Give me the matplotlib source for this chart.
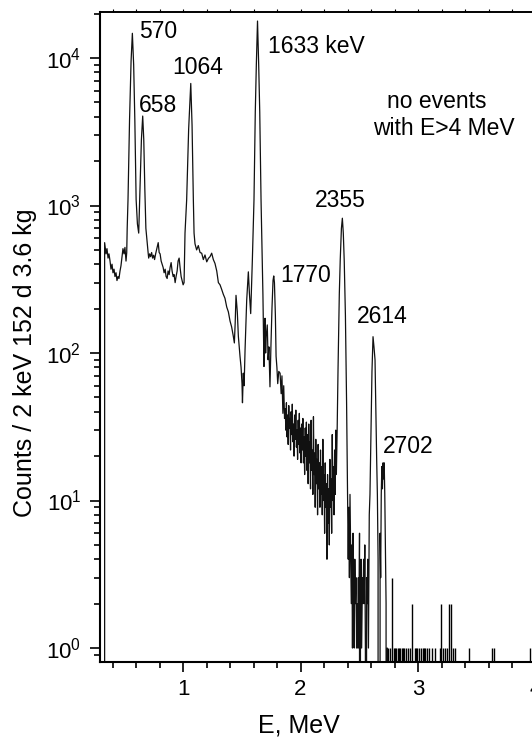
import matplotlib
matplotlib.use("Agg")
import matplotlib.pyplot as plt
from matplotlib.ticker import MultipleLocator, LogLocator
import numpy as np

plt.rcParams['font.family'] = ['Liberation Sans', 'DejaVu Sans']
plt.rcParams['mathtext.fontset'] = 'custom'
plt.rcParams['mathtext.rm'] = 'Liberation Sans'
plt.rcParams['mathtext.it'] = 'Liberation Sans:italic'

# --- spectrum (E in MeV, counts per 2 keV bin) ---
# threshold + low-energy continuum
low_energy = [0.300, 0.326, 0.333, 0.345, 0.353, 0.362, 0.370, 0.379, 0.387, 0.396,
              0.404, 0.413, 0.421, 0.430, 0.438, 0.447, 0.455, 0.464, 0.472, 0.481,
              0.489, 0.498, 0.506, 0.515, 0.521]
low_counts = [0, 0, 560, 470, 510, 440, 470, 420, 370, 400,
              350, 370, 330, 350, 310, 330, 320, 360, 390, 450,
              510, 470, 520, 420, 480]

# 570 and 658 keV peaks
peak570_energy = [0.525, 0.532, 0.545, 0.558, 0.569, 0.580, 0.590, 0.601, 0.612, 0.623,
                  0.635, 0.646, 0.657, 0.666, 0.675, 0.684, 0.694]
peak570_counts = [700, 1100, 3800, 9500, 14700, 9000, 3800, 1100, 750, 650,
                  1400, 2800, 4040, 2800, 1300, 700, 570]

# continuum up to 1064
cont1_energy = [0.703, 0.708, 0.716, 0.724, 0.733, 0.741, 0.750, 0.758, 0.767, 0.775,
                0.784, 0.789, 0.797, 0.805, 0.814, 0.822, 0.831, 0.839, 0.848, 0.856,
                0.865, 0.873, 0.882, 0.890, 0.899, 0.907, 0.916, 0.924, 0.933, 0.941,
                0.950, 0.958, 0.967, 0.975, 0.984, 0.992, 1.001, 1.009]
cont1_counts = [480, 440, 470, 450, 480, 440, 460, 430, 470, 500,
                540, 560, 480, 470, 420, 400, 380, 350, 370, 330,
                320, 360, 340, 380, 410, 360, 330, 340, 300, 330,
                360, 420, 440, 380, 330, 310, 290, 300]

# 1064 keV peak
peak1064_energy = [1.017, 1.031, 1.048, 1.066, 1.077, 1.088, 1.094, 1.102, 1.116]
peak1064_counts = [650, 1090, 3300, 6720, 3500, 1090, 650, 550, 500]

# continuum 1.1 - 1.6 MeV
cont2_energy = [1.130, 1.145, 1.159, 1.173, 1.187, 1.202, 1.216, 1.230, 1.244, 1.258,
                1.272, 1.287, 1.301, 1.315, 1.329, 1.343, 1.357, 1.372, 1.386, 1.400,
                1.414, 1.428, 1.437, 1.444, 1.451, 1.462, 1.471, 1.485, 1.494, 1.502,
                1.506, 1.513, 1.520, 1.528, 1.542, 1.556, 1.565, 1.576]
cont2_counts = [535, 480, 475, 430, 462, 415, 438, 450, 475, 430,
                405, 360, 300, 290, 270, 250, 235, 205, 190, 165,
                150, 130, 117, 160, 246, 190, 130, 95, 80, 62,
                46, 73, 60, 105, 228, 355, 254, 185]

# 1633 and 1770 keV peaks
peak1633_energy = [1.590, 1.604, 1.615, 1.624, 1.634, 1.644, 1.653, 1.664, 1.680, 1.689,
                   1.694, 1.698, 1.703, 1.708, 1.717, 1.724, 1.731, 1.740, 1.748, 1.757,
                   1.766, 1.772, 1.778, 1.786, 1.792, 1.799, 1.806, 1.815, 1.826, 1.835,
                   1.842, 1.850, 1.857, 1.864]
peak1633_counts = [425, 1090, 4300, 9000, 17800, 9000, 4300, 1090, 250, 81,
                   130, 172, 100, 130, 155, 90, 110, 59, 110, 200,
                   310, 333, 300, 180, 95, 80, 62, 75, 73, 53,
                   70, 39, 60, 36]

# noisy continuum 1.87 - 2.31 MeV
cont3_energy = [1.870, 1.875, 1.880, 1.885, 1.890, 1.895, 1.900, 1.905, 1.910, 1.915,
                1.920, 1.925, 1.930, 1.935, 1.940, 1.945, 1.950, 1.955, 1.960, 1.965,
                1.970, 1.975, 1.980, 1.985, 1.990, 1.995, 2.000, 2.005, 2.010, 2.015,
                2.020, 2.025, 2.030, 2.035, 2.040, 2.045, 2.050, 2.055, 2.060, 2.065,
                2.070, 2.075, 2.080, 2.085, 2.090, 2.095, 2.100, 2.105, 2.110, 2.115,
                2.120, 2.125, 2.130, 2.135, 2.140, 2.145, 2.150, 2.155, 2.160, 2.165,
                2.170, 2.175, 2.180, 2.185, 2.190, 2.195, 2.200, 2.205, 2.210, 2.215,
                2.220, 2.225, 2.230, 2.235, 2.240, 2.245, 2.250, 2.255, 2.260, 2.265,
                2.270, 2.275, 2.280, 2.285, 2.290, 2.295, 2.300, 2.305]
cont3_counts = [42, 30, 46, 27, 38, 24, 44, 31, 36, 22,
                40, 28, 45, 25, 33, 20, 38, 26, 41, 23,
                30, 19, 35, 24, 39, 21, 31, 18, 33, 22,
                36, 18, 27, 15, 31, 20, 34, 16, 28, 13,
                33, 18, 25, 12, 35, 16, 22, 11, 37, 15,
                21, 9, 26, 13, 19, 8, 24, 12, 18, 9,
                22, 11, 17, 8, 26, 10, 15, 6, 18, 9,
                13, 4, 15, 7, 12, 5, 19, 9, 14, 6,
                28, 10, 17, 8, 22, 11, 30, 15]

# 2355 keV peak and the sparse region after it
peak2355_energy = [2.312, 2.319, 2.330, 2.338, 2.348, 2.356, 2.364, 2.372, 2.382, 2.392,
                   2.400, 2.406, 2.411, 2.416, 2.421, 2.426, 2.432, 2.437, 2.442, 2.447,
                   2.452, 2.457, 2.462, 2.467, 2.472, 2.477, 2.482, 2.487, 2.492, 2.497,
                   2.502, 2.506, 2.510, 2.515, 2.520, 2.527, 2.532, 2.537, 2.542, 2.547,
                   2.552, 2.557, 2.562, 2.567, 2.572, 2.578, 2.585]
peak2355_counts = [31, 76, 250, 430, 700, 820, 650, 420, 180, 46,
                   11, 4, 9, 3, 11, 5, 2, 5, 1, 6,
                   3, 1, 4, 2, 3, 1, 2, 1, 3, 1,
                   6, 0, 2, 4, 1, 3, 2, 4, 2, 5,
                   1, 0, 3, 2, 4, 1, 8]

# 2614 and 2702 keV peaks
peak2614_energy = [2.591, 2.600, 2.608, 2.617, 2.625, 2.634, 2.641, 2.648, 2.654, 2.660,
                   2.665, 2.672, 2.677, 2.682, 2.687, 2.692, 2.697, 2.702, 2.707, 2.712,
                   2.717, 2.722, 2.728, 2.733, 2.738, 2.742]
peak2614_counts = [11, 31, 75, 129, 110, 90, 40, 19, 11, 4,
                   0, 0, 6, 3, 11, 17, 12, 18, 14, 18,
                   11, 5, 2, 0, 1, 0]

# single events above 2.74 MeV
tail_energy = [2.745, 2.762, 2.779, 2.796, 2.805, 2.813, 2.830, 2.838, 2.847, 2.864,
               2.872, 2.881, 2.898, 2.915, 2.932, 2.949, 2.974, 2.983, 2.991, 3.009,
               3.026, 3.043, 3.051, 3.060, 3.077, 3.094, 3.119, 3.145, 3.187, 3.196,
               3.213, 3.230, 3.247, 3.264, 3.281, 3.298, 3.315, 3.434, 3.630, 3.647,
               3.953]
tail_counts = [1, 1, 3, 1, 1, 1, 1, 1, 1, 1,
               1, 1, 1, 1, 1, 2, 1, 1, 1, 1,
               1, 1, 1, 1, 1, 1, 1, 1, 1, 2,
               1, 1, 1, 2, 2, 1, 1, 1, 1, 1,
               1]

# peak labels
label_text = ["570", "658", "1064", "1633 keV", "1770", "2355", "2614", "2702"]
label_x = [0.626, 0.626, 0.906, 1.723, 1.826, 2.123, 2.481, 2.702]
label_y = [13670, 4305, 7795, 10815, 303, 977, 160, 21]

energy = np.concatenate([low_energy, peak570_energy, cont1_energy, peak1064_energy,
                         cont2_energy, peak1633_energy, cont3_energy,
                         peak2355_energy, peak2614_energy])
counts = np.concatenate([low_counts, peak570_counts, cont1_counts, peak1064_counts,
                         cont2_counts, peak1633_counts, cont3_counts,
                         peak2355_counts, peak2614_counts])

fig = plt.figure(figsize=(5.32, 7.37), dpi=100)
# axes run past the right edge of the figure, as in the cropped original
ax = fig.add_axes([0.18797, 0.10176, 0.88496, 0.88195])

ax.plot(energy, counts, color='#111111', lw=0.9)
ax.vlines(tail_energy, 0, tail_counts, color='black', lw=1.0)

ax.set_yscale('log')
ax.set_xlim(0.2936, 4.3)
ax.set_ylim(0.804, 20500)

ax.xaxis.set_major_locator(MultipleLocator(1))
ax.xaxis.set_minor_locator(MultipleLocator(0.2))
ax.yaxis.set_major_locator(LogLocator(base=10, numticks=10))
ax.yaxis.set_minor_locator(LogLocator(base=10, subs=np.arange(2, 10), numticks=20))

ax.tick_params(which='both', direction='out', width=1.2, right=False, top=False)
ax.tick_params(which='major', length=7.5, labelsize=16)
ax.tick_params(which='minor', length=4.5)
ax.tick_params(axis='x', which='major', pad=5)
ax.tick_params(axis='y', which='major', pad=6)

for side in ['left', 'bottom']:
    ax.spines[side].set_linewidth(1.5)
ax.spines['top'].set_linewidth(1.2)
ax.spines['right'].set_visible(False)

# small ticks on the top edge
top = ax.secondary_xaxis('top')
top.xaxis.set_major_locator(MultipleLocator(0.2))
top.tick_params(direction='out', length=2.5, width=0.8, labeltop=False)
top.spines['top'].set_linewidth(1.2)

for txt, x, y in zip(label_text, label_x, label_y):
    ax.text(x, y, txt, ha='left', va='baseline', fontsize=16.5)

ax.text(2.736, 4580, "no events", ha='left', va='baseline', fontsize=16.5)
ax.text(2.617, 3006, "with E>4 MeV", ha='left', va='baseline', fontsize=16.5)

fig.text(25 / 532, 1 - 363 / 737, "Counts / 2 keV 152 d 3.6 kg",
         rotation=90, ha='center', va='center', fontsize=18)
fig.text(299 / 532, 1 - 732 / 737, "E, MeV", ha='center', va='baseline', fontsize=18)

fig.savefig("out.png", dpi=100)
